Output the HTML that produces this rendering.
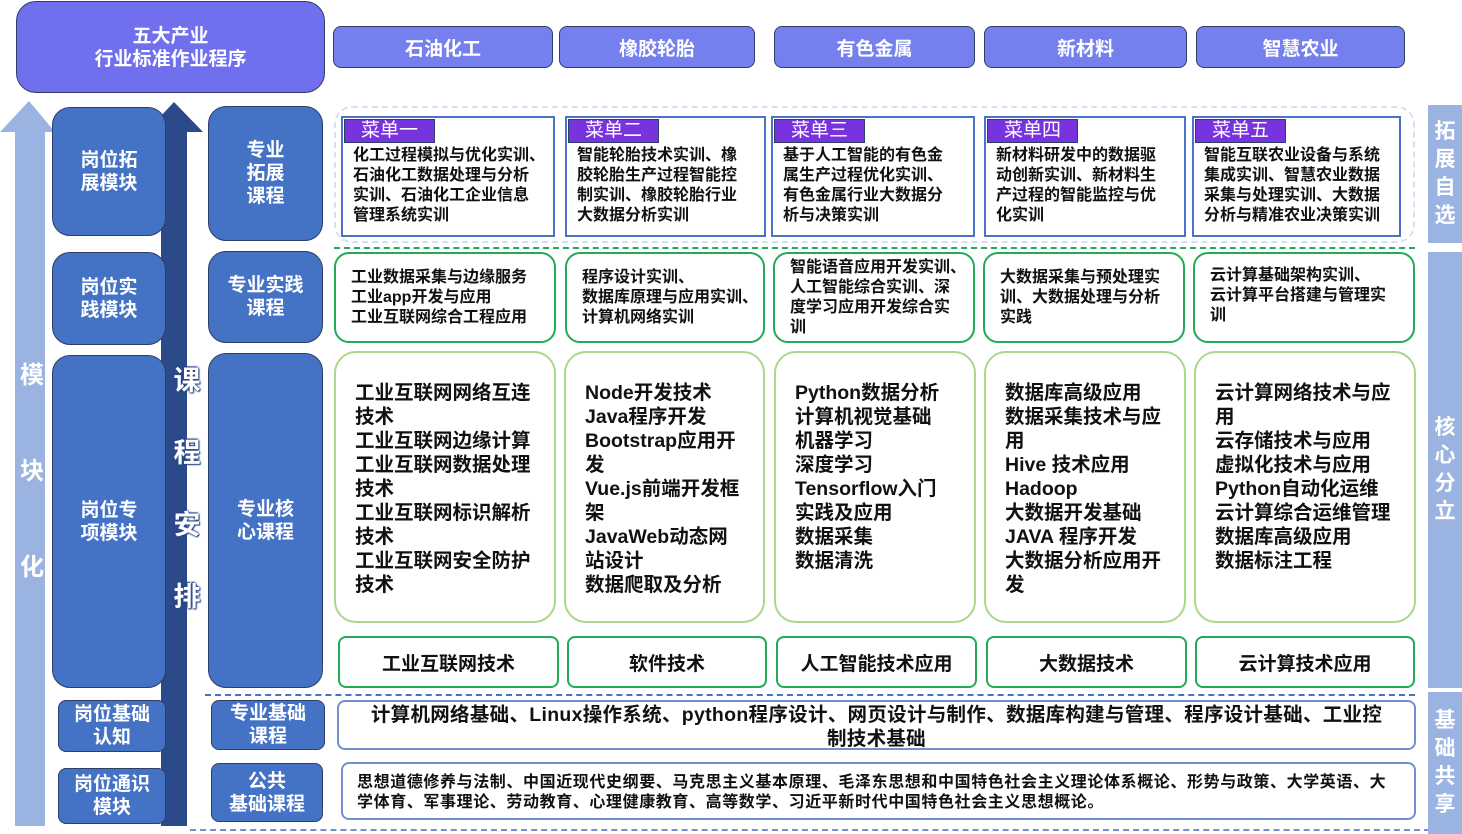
<!DOCTYPE html>
<html><head><meta charset="utf-8"><style>
*{margin:0;padding:0;box-sizing:border-box}
body{width:1462px;height:834px;background:#fff;position:relative;overflow:hidden;font-family:"Liberation Sans","Noto Sans CJK SC",sans-serif;font-weight:bold}
.a{position:absolute}
.mod{position:absolute;background:#4472C4;border:1.5px solid #2F3E66;border-radius:18px;color:#fff;font-size:19px;line-height:23px;display:flex;align-items:center;justify-content:center;text-align:center}
.tab{position:absolute;top:26px;height:42px;background:#7580EE;border:1.5px solid #2F3E66;border-radius:8px;color:#fff;font-size:19px;display:flex;align-items:center;justify-content:center}
.menu{position:absolute;top:116px;height:121px;border:2px solid #4A72C8;background:#fff;font-size:16px;line-height:20px;color:#111;padding:28px 0 0 10px;white-space:nowrap}
.menu span{position:absolute;left:1px;top:1px;width:91px;height:24px;background:#7733DD;border:1.5px solid #2F3E66;color:#fff;font-weight:normal;font-size:19px;line-height:22px;text-align:center}
.pr{position:absolute;top:252px;height:91px;border:2.5px solid #22AA55;border-radius:15px;background:#fff;font-size:16px;line-height:20px;color:#111;padding:0 0 0 15px;display:flex;align-items:center;white-space:nowrap}
.core{position:absolute;top:351px;height:272px;border:2.5px solid #A8D88A;border-radius:22px;background:#fff;font-size:19.5px;line-height:24px;color:#111;padding:28px 0 0 19px;white-space:nowrap}
.sp{position:absolute;top:636px;height:52px;border:2.5px solid #22AA55;border-radius:8px;background:#fff;font-size:19px;color:#111;display:flex;align-items:center;justify-content:center}
.side{position:absolute;left:1428px;width:34px;background:#9AB3E0;color:#fff;font-size:21px;line-height:28px;text-align:center;display:flex;align-items:center;justify-content:center}
</style></head><body>
<div class="a" style="left:16px;top:1px;width:309px;height:92px;background:#7070EE;border:1.5px solid #2F3E66;border-radius:20px;color:#fff;font-size:19px;line-height:23px;text-align:center;padding-top:23px">五大产业<br>行业标准作业程序</div>
<div class="tab" style="left:333px;width:220px">石油化工</div>
<div class="tab" style="left:559px;width:196px">橡胶轮胎</div>
<div class="tab" style="left:774px;width:201px">有色金属</div>
<div class="tab" style="left:984px;width:203px">新材料</div>
<div class="tab" style="left:1196px;width:209px">智慧农业</div>
<svg class="a" style="left:0;top:0" width="240" height="834">
<polygon points="0,132 29,101 55,132 45,132 45,826 15,826 15,132" fill="#9AB3E0"/>
<polygon points="146,132 174,102 203,132 187,132 187,826 161,826 161,132" fill="#2B4A8A"/>
</svg>
<div class="a" style="left:17px;top:328px;width:30px;color:#fff;font-size:24px;line-height:96px;text-align:center">模<br>块<br>化</div>
<div class="mod" style="left:52px;top:107px;width:114px;height:129px">岗位拓<br>展模块</div>
<div class="mod" style="left:52px;top:252px;width:114px;height:93px">岗位实<br>践模块</div>
<div class="mod" style="left:52px;top:355px;width:114px;height:333px">岗位专<br>项模块</div>
<div class="mod" style="left:58px;top:700px;width:108px;height:52px;border-radius:8px">岗位基础<br>认知</div>
<div class="mod" style="left:58px;top:768px;width:108px;height:56px;border-radius:8px">岗位通识<br>模块</div>
<div class="mod" style="left:208px;top:106px;width:115px;height:135px">专业<br>拓展<br>课程</div>
<div class="mod" style="left:208px;top:251px;width:115px;height:92px">专业实践<br>课程</div>
<div class="mod" style="left:208px;top:353px;width:115px;height:335px">专业核<br>心课程</div>
<div class="mod" style="left:211px;top:700px;width:114px;height:50px;border-radius:8px">专业基础<br>课程</div>
<div class="mod" style="left:211px;top:763px;width:112px;height:59px;border-radius:8px">公共<br>基础课程</div>
<div class="a" style="left:170px;top:345px;width:34px;color:#fff;font-size:27px;line-height:72px;text-align:center;z-index:5;text-shadow:0 0 2px #2B4A8A,0 0 2px #2B4A8A,1px 1px 1px #2B4A8A,-1px -1px 1px #2B4A8A">课<br>程<br>安<br>排</div>
<div class="a" style="left:334px;top:106px;width:1081px;height:137px;border:2px dashed #D6E0F4;border-radius:18px"></div>
<div class="menu" style="left:341px;width:214px"><span>菜单一</span>化工过程模拟与优化实训、<br>石油化工数据处理与分析<br>实训、石油化工企业信息<br>管理系统实训</div>
<div class="menu" style="left:565px;width:201px"><span>菜单二</span>智能轮胎技术实训、橡<br>胶轮胎生产过程智能控<br>制实训、橡胶轮胎行业<br>大数据分析实训</div>
<div class="menu" style="left:771px;width:204px"><span>菜单三</span>基于人工智能的有色金<br>属生产过程优化实训、<br>有色金属行业大数据分<br>析与决策实训</div>
<div class="menu" style="left:984px;width:202px"><span>菜单四</span>新材料研发中的数据驱<br>动创新实训、新材料生<br>产过程的智能监控与优<br>化实训</div>
<div class="menu" style="left:1192px;width:209px"><span>菜单五</span>智能互联农业设备与系统<br>集成实训、智慧农业数据<br>采集与处理实训、大数据<br>分析与精准农业决策实训</div>
<div class="a" style="left:334px;top:247px;width:1081px;border-top:2.5px dashed #22AA55"></div>
<div class="pr" style="left:334px;width:222px">工业数据采集与边缘服务<br>工业app开发与应用<br>工业互联网综合工程应用</div>
<div class="pr" style="left:565px;width:200px">程序设计实训、<br>数据库原理与应用实训、<br>计算机网络实训</div>
<div class="pr" style="left:773px;width:202px">智能语音应用开发实训、<br>人工智能综合实训、深<br>度学习应用开发综合实<br>训</div>
<div class="pr" style="left:983px;width:202px">大数据采集与预处理实<br>训、大数据处理与分析<br>实践</div>
<div class="pr" style="left:1193px;width:222px;align-items:flex-start;padding-top:12px">云计算基础架构实训、<br>云计算平台搭建与管理实<br>训</div>
<div class="core" style="left:334px;width:222px">工业互联网网络互连<br>技术<br>工业互联网边缘计算<br>工业互联网数据处理<br>技术<br>工业互联网标识解析<br>技术<br>工业互联网安全防护<br>技术</div>
<div class="core" style="left:564px;width:201px">Node开发技术<br>Java程序开发<br>Bootstrap应用开<br>发<br>Vue.js前端开发框<br>架<br>JavaWeb动态网<br>站设计<br>数据爬取及分析</div>
<div class="core" style="left:774px;width:202px">Python数据分析<br>计算机视觉基础<br>机器学习<br>深度学习<br>Tensorflow入门<br>实践及应用<br>数据采集<br>数据清洗</div>
<div class="core" style="left:984px;width:202px">数据库高级应用<br>数据采集技术与应<br>用<br>Hive 技术应用<br>Hadoop<br>大数据开发基础<br>JAVA 程序开发<br>大数据分析应用开<br>发</div>
<div class="core" style="left:1194px;width:222px">云计算网络技术与应<br>用<br>云存储技术与应用<br>虚拟化技术与应用<br>Python自动化运维<br>云计算综合运维管理<br>数据库高级应用<br>数据标注工程</div>
<div class="sp" style="left:338px;width:221px">工业互联网技术</div>
<div class="sp" style="left:567px;width:200px">软件技术</div>
<div class="sp" style="left:776px;width:201px">人工智能技术应用</div>
<div class="sp" style="left:986px;width:201px">大数据技术</div>
<div class="sp" style="left:1195px;width:220px">云计算技术应用</div>
<div class="a" style="left:205px;top:694px;width:1210px;border-top:2.5px dashed #4472C4"></div>
<div class="a" style="left:337px;top:700px;width:1079px;height:50px;border:2px solid #7090D0;border-radius:8px;font-size:19.5px;line-height:24px;text-align:center;padding-top:1px;color:#111;white-space:nowrap;letter-spacing:0.3px">计算机网络基础、Linux操作系统、python程序设计、网页设计与制作、数据库构建与管理、程序设计基础、工业控<br>制技术基础</div>
<div class="a" style="left:341px;top:762px;width:1075px;height:58px;border:2px solid #7090D0;border-radius:8px;font-size:16px;line-height:20px;padding:9px 0 0 14px;color:#111;white-space:nowrap;letter-spacing:0.6px">思想道德修养与法制、中国近现代史纲要、马克思主义基本原理、毛泽东思想和中国特色社会主义理论体系概论、形势与政策、大学英语、大<br>学体育、军事理论、劳动教育、心理健康教育、高等数学、习近平新时代中国特色社会主义思想概论。</div>
<div class="a" style="left:190px;top:829px;width:1240px;border-top:2.5px dashed #7090D0"></div>
<div class="side" style="top:105px;height:138px">拓<br>展<br>自<br>选</div>
<div class="side" style="top:252px;height:436px">核<br>心<br>分<br>立</div>
<div class="side" style="top:692px;height:142px">基<br>础<br>共<br>享</div>
</body></html>
